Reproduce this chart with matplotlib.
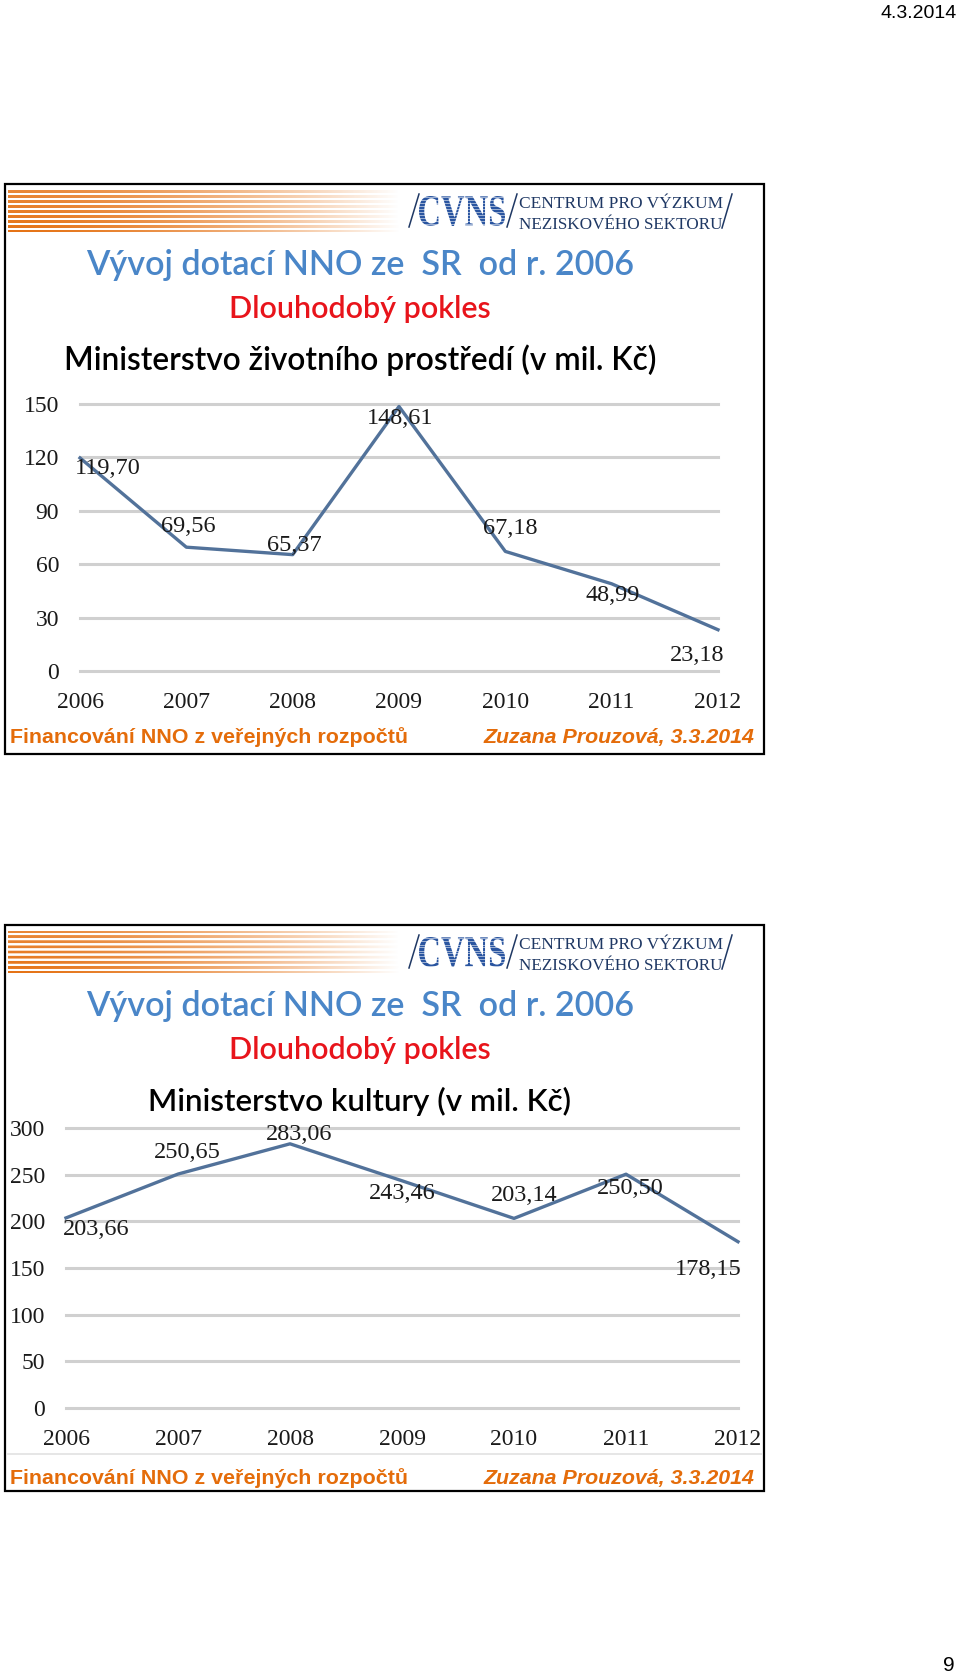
import numpy as np
import matplotlib
matplotlib.use('Agg')
import matplotlib.pyplot as plt
from matplotlib.patches import Rectangle, PathPatch
from matplotlib.lines import Line2D
from matplotlib.textpath import TextPath
from matplotlib.font_manager import FontProperties
from matplotlib.transforms import Affine2D

W, H = 960, 1676

years = [2006, 2007, 2008, 2009, 2010, 2011, 2012]
mzp_values = [119.70, 69.56, 65.37, 148.61, 67.18, 48.99, 23.18]
mk_values = [203.66, 250.65, 283.06, 243.46, 203.14, 250.50, 178.15]
mzp_ticks = [0, 30, 60, 90, 120, 150]
mk_ticks = [0, 50, 100, 150, 200, 250, 300]

# where each value label sits relative to its point (pixels, +y is down)
mzp_offsets = [(28, 11), (2, -21), (2, -9), (1, 12), (5, -23), (1, 12), (-21, 26)]
mk_offsets = [(30, 12), (9, -22), (9, -9), (0, 13), (10, -23), (4, 14), (-30, 28)]

title = 'Vývoj dotací NNO ze  SR  od r. 2006'
subtitle = 'Dlouhodobý pokles'
mzp_heading = 'Ministerstvo životního prostředí (v mil. Kč)'
mk_heading = 'Ministerstvo kultury (v mil. Kč)'
footer_left = 'Financování NNO z veřejných rozpočtů'
footer_right = 'Zuzana Prouzová, 3.3.2014'
logo_line1 = 'CENTRUM PRO VÝZKUM'
logo_line2 = 'NEZISKOVÉHO SEKTORU'
date_text = '4.3.2014'
page_no = '9'

SERIF = 'Liberation Serif'
SANS = 'Liberation Sans'
HEAD = 'Lato'

fig = plt.figure(figsize=(W / 100, H / 100), dpi=100)
fig.patch.set_facecolor('white')


def box(x0, y0, x1, y1):
    return [x0 / W, 1 - y1 / H, (x1 - x0) / W, (y1 - y0) / H]


def ftext(x, y, s, **kw):
    return fig.text(x / W, 1 - y / H, s, **kw)


def fline(x0, y0, x1, y1, **kw):
    fig.add_artist(Line2D([x0 / W, x1 / W], [1 - y0 / H, 1 - y1 / H], **kw))


def stripes_image(w=400, h=42):
    img = np.ones((h, w, 4))
    orange = np.array([0.90, 0.45, 0.08])
    xs = np.linspace(0, 1, w)
    fade = np.clip(1 - xs ** 1.6, 0, 1)
    for i in range(h):
        if i % 5 < 3:
            img[i, :, :3] = orange
            img[i, :, 3] = fade * (0.85 + 0.15 * (i / h))
        else:
            img[i, :, 3] = 0
    return img


def logo(top):
    # stretched, striped "CVNS" mark
    tp = TextPath((0, 0), 'CVNS', size=100, prop=FontProperties(family=SERIF, weight='bold'))
    ext = tp.get_extents()
    x0, x1, y0, y1 = 419, 505, top + 12, top + 42
    sx = (x1 - x0) / ext.width
    sy = (y1 - y0) / ext.height
    tr = (Affine2D().translate(-ext.x0, -ext.y0).scale(sx / W, sy / H)
          .translate(x0 / W, 1 - y1 / H) + fig.transFigure)
    fig.add_artist(PathPatch(tp, transform=tr, fc='#2A55A0', ec='none'))
    for yy in np.arange(y0 + 1.5, y1, 3):
        fline(x0 - 1, yy, x1 + 1, yy, color='white', lw=0.7, alpha=0.55)
    navy = '#1F3864'
    fline(409, top + 43, 419, top + 10, color=navy, lw=1.1)
    fline(507, top + 43, 517, top + 10, color=navy, lw=1.1)
    fline(722, top + 44, 732, top + 10, color=navy, lw=1.1)
    ftext(519, top + 20, logo_line1, fontsize=12.5, color=navy, family=SERIF, ha='left', va='center')
    ftext(519, top + 41, logo_line2, fontsize=12.3, color=navy, family=SERIF, ha='left', va='center')


def draw_slide(top, bottom, heading, heading_size):
    fig.patches.append(Rectangle((5 / W, 1 - bottom / H), (764 - 5) / W, (bottom - top) / H,
                                 transform=fig.transFigure, fill=False, lw=1.6, ec='black'))
    sax = fig.add_axes(box(8, top + 6, 400, top + 48))
    sax.imshow(stripes_image(), aspect='auto')
    sax.axis('off')
    logo(top)

    ftext(360, top + 81, title, fontsize=24.6, weight='semibold', color='#4A86C8', family=HEAD,
          ha='center', va='center')
    ftext(360, top + 125, subtitle, fontsize=22, weight='semibold', color='#E8141B', family=HEAD,
          ha='center', va='center')
    ftext(360, top + 176, heading, fontsize=heading_size, weight='semibold', color='black',
          family=HEAD, ha='center', va='center')

    ftext(10, top + 553, footer_left, fontsize=15.4, weight='bold', color='#E46C0A', family=SANS,
          ha='left', va='center')
    ftext(754, top + 553, footer_right, fontsize=15.4, weight='bold', style='italic', color='#E46C0A',
          family=SANS, ha='right', va='center')


def draw_chart(rect, values, ticks, offsets):
    ax = fig.add_axes(box(*rect))
    ax.set_xlim(years[0], years[-1])
    ax.set_ylim(ticks[0], ticks[-1])
    for t in ticks:
        ax.axhline(t, color='#D0D0D0', lw=2.2, clip_on=False, zorder=1)
    ax.plot(years, values, color='#52729A', lw=2.4, clip_on=False, zorder=3)
    for x, v, (dx, dy) in zip(years, values, offsets):
        lab = f'{v:.2f}'.replace('.', ',')
        ax.annotate(lab, (x, v), xytext=(dx * 0.72, -dy * 0.72), textcoords='offset points',
                    ha='center', va='center', fontsize=17.5, family=SERIF, color='#1A1A1A', zorder=4)
    ax.set_xticks(years)
    ax.set_yticks(ticks)
    ax.tick_params(length=0, labelsize=17, colors='#1A1A1A')
    ax.tick_params(axis='x', pad=15)
    ax.tick_params(axis='y', pad=15)
    for lab in ax.get_xticklabels() + ax.get_yticklabels():
        lab.set_family(SERIF)
    for s in ax.spines.values():
        s.set_visible(False)
    ax.patch.set_alpha(0)
    return ax


draw_slide(184, 754, mzp_heading, 22.8)
draw_chart((80, 404, 718, 671), mzp_values, mzp_ticks, mzp_offsets)

draw_slide(925, 1491, mk_heading, 22.6)
draw_chart((66, 1128, 738, 1408), mk_values, mk_ticks, mk_offsets)
fline(8, 1454, 762, 1454, color='#E2E2E2', lw=1.2)

ftext(957, 14, date_text, fontsize=14, color='black', family=SANS, ha='right', va='center')
ftext(955, 1665, page_no, fontsize=15, color='black', family=SANS, ha='right', va='center')

fig.savefig('out.png', dpi=100)
